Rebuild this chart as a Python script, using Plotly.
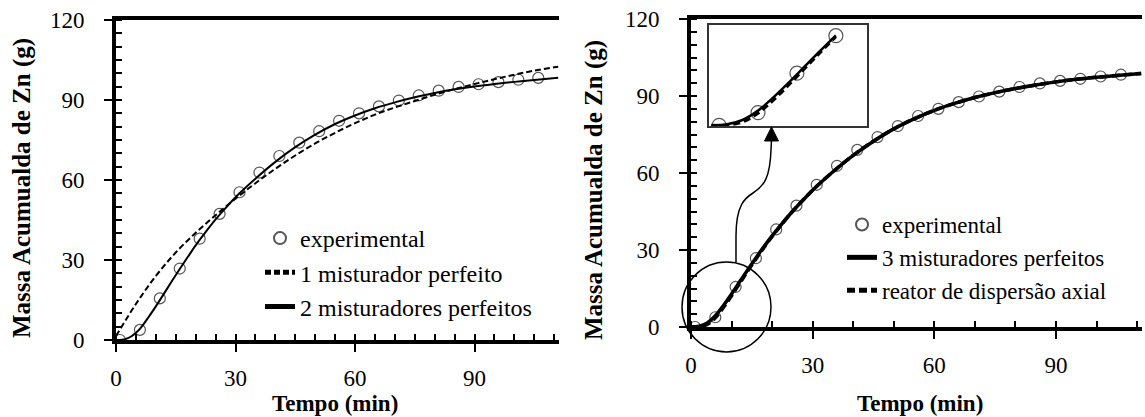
import plotly.graph_objects as go

W, H = 1145, 417

# ---------------- data ----------------
t_exp = [1, 6, 11, 16, 21, 26, 31, 36, 41, 46, 51, 56, 61, 66, 71, 76, 81, 86, 91, 96, 101, 106]
m_exp = [0, 3.8, 15.6, 26.8, 38.0, 47.3, 55.4, 62.8, 69.0, 74.0, 78.3, 82.2, 85.0, 87.6,
         89.8, 91.7, 93.5, 94.9, 95.9, 96.7, 97.6, 98.3]

t_1mix = [0, 5, 10, 15, 20, 25, 30, 35, 40, 45, 50, 55, 60, 65, 70, 75, 80, 85, 90, 95, 100, 105, 110, 111]
m_1mix = [1.5, 13.5, 24.0, 32.8, 40.2, 46.8, 53.0, 58.8, 64.2, 69.2, 73.7, 77.7, 81.3, 84.5,
          87.2, 89.6, 92.0, 94.1, 96.0, 97.8, 99.5, 101.0, 102.3, 102.5]

t_2mix = [0, 1, 2, 3, 4, 6, 8, 10, 12, 14, 16, 18, 20, 22, 25, 28, 31, 35, 40, 45, 50, 55,
          60, 65, 70, 75, 80, 85, 90, 95, 100, 105, 111]
m_2mix = [0, 0, 0.2, 0.7, 1.5, 4.2, 8.2, 12.6, 17.3, 22.0, 26.6, 31.1, 35.5, 39.5, 45.2, 50.3,
          55.0, 60.5, 66.8, 72.3, 77.0, 81.0, 84.2, 86.9, 89.1, 91.0, 92.6, 94.0, 95.1, 96.0,
          96.8, 97.5, 98.3]

t_right = [0, 2, 4, 6, 8, 10, 12, 14, 16, 18, 20, 22, 25, 28, 31, 35, 40, 45, 50, 55, 60, 65,
           70, 75, 80, 85, 90, 95, 100, 105, 111]
m_3mix = [0, 0.3, 1.6, 4.4, 8.4, 12.9, 17.6, 22.3, 26.9, 31.3, 35.5, 39.4, 45.0, 50.1, 54.8,
          60.5, 66.9, 72.4, 77.2, 81.1, 84.4, 87.1, 89.4, 91.3, 92.9, 94.3, 95.5, 96.5, 97.3,
          98.0, 98.8]
m_axial = [0, 0.1, 1.0, 3.6, 7.6, 12.2, 17.0, 21.8, 26.5, 31.0, 35.3, 39.3, 45.0, 50.1, 54.8,
           60.5, 66.9, 72.4, 77.2, 81.1, 84.4, 87.1, 89.4, 91.3, 92.9, 94.3, 95.5, 96.5, 97.3,
           98.0, 98.8]

n_inset = 9      # curve points shown in the zoom inset (t <= 16)
n_inset_exp = 4  # experimental points shown in the inset

x_ticks = [0, 30, 60, 90]
y_ticks = [0, 30, 60, 90, 120]

labels_left = ["experimental", "1 misturador perfeito", "2 misturadores perfeitos"]
labels_right = ["experimental", "3 misturadores perfeitos", "reator de dispersão axial"]
y_title = "Massa Acumualda de Zn (g)"
x_title = "Tempo (min)"

# ---------------- style helpers ----------------
FONT = "Times New Roman, Liberation Serif, DejaVu Serif, serif"


def px(x):
    return x / W


def py(y):
    return 1 - y / H


tickfont = dict(family=FONT, size=23, color="black")

fig = go.Figure()

# left panel
fig.add_trace(go.Scatter(x=t_exp, y=m_exp, mode="markers", name=labels_left[0],
                         marker=dict(symbol="circle-open", size=11, color="#555555",
                                     line=dict(width=1.2, color="#555555")),
                         xaxis="x", yaxis="y", legend="legend"))
fig.add_trace(go.Scatter(x=t_1mix, y=m_1mix, mode="lines", name=labels_left[1],
                         line=dict(color="black", width=2, dash="6px,3px", shape="spline"),
                         xaxis="x", yaxis="y", legend="legend"))
fig.add_trace(go.Scatter(x=t_2mix, y=m_2mix, mode="lines", name=labels_left[2],
                         line=dict(color="black", width=2, shape="spline"),
                         xaxis="x", yaxis="y", legend="legend"))

# right panel
fig.add_trace(go.Scatter(x=t_exp, y=m_exp, mode="markers", name=labels_right[0],
                         marker=dict(symbol="circle-open", size=11, color="#555555",
                                     line=dict(width=1.2, color="#555555")),
                         xaxis="x2", yaxis="y2", legend="legend2"))
fig.add_trace(go.Scatter(x=t_right, y=m_3mix, mode="lines", name=labels_right[1],
                         line=dict(color="black", width=3.5, shape="spline"),
                         xaxis="x2", yaxis="y2", legend="legend2"))
fig.add_trace(go.Scatter(x=t_right, y=m_axial, mode="lines", name=labels_right[2],
                         line=dict(color="black", width=3.5, dash="8px,4px", shape="spline"),
                         xaxis="x2", yaxis="y2", legend="legend2"))

# inset (zoom of the start of the right panel)
fig.add_trace(go.Scatter(x=t_exp[:n_inset_exp], y=m_exp[:n_inset_exp], mode="markers",
                         showlegend=False,
                         marker=dict(symbol="circle-open", size=14, color="#555555",
                                     line=dict(width=1.2, color="#555555")),
                         xaxis="x3", yaxis="y3"))
fig.add_trace(go.Scatter(x=t_right[:n_inset], y=m_axial[:n_inset], mode="lines", showlegend=False,
                         line=dict(color="black", width=3, dash="7px,4px", shape="spline"),
                         xaxis="x3", yaxis="y3"))
fig.add_trace(go.Scatter(x=t_right[:n_inset], y=m_3mix[:n_inset], mode="lines", showlegend=False,
                         line=dict(color="black", width=2.5, shape="spline"),
                         xaxis="x3", yaxis="y3"))


def main_x(domain, minor, anchor):
    return dict(domain=domain, range=[0, 111.2], anchor=anchor, showline=True, linewidth=4,
                linecolor="black", mirror=True, ticks="outside", ticklen=8, tickwidth=2,
                tickcolor="black", tickmode="array", tickvals=x_ticks, tickfont=tickfont,
                ticklabelstandoff=6, showgrid=False, zeroline=False, automargin=False,
                minor=dict(dtick=minor, tick0=0, ticks="inside", ticklen=6, tickwidth=2,
                           tickcolor="black", showgrid=False))


def main_y(domain, anchor):
    return dict(domain=domain, range=[0, 120], anchor=anchor, showline=True, linewidth=4,
                linecolor="black", ticks="outside", ticklen=8, tickwidth=2,
                tickcolor="black", tickmode="array", tickvals=y_ticks, tickfont=tickfont,
                ticklabelstandoff=15, showgrid=False, zeroline=False, automargin=False,
                minor=dict(dtick=5, tick0=0, ticks="inside", ticklen=6, tickwidth=2,
                           tickcolor="black", showgrid=False))


def inner_x(over, anchor):
    return dict(overlaying=over, anchor=anchor, range=[0, 111.2], ticks="inside", ticklen=7,
                tickwidth=2, tickcolor="black", tickmode="array", tickvals=x_ticks,
                showticklabels=False, showline=False, showgrid=False, zeroline=False,
                automargin=False)


def inner_y(over, anchor):
    return dict(overlaying=over, anchor=anchor, range=[0, 120], ticks="inside", ticklen=7,
                tickwidth=2, tickcolor="black", tickmode="array", tickvals=y_ticks,
                showticklabels=False, showline=False, showgrid=False, zeroline=False,
                automargin=False)


dom_left_x = [px(116), px(559)]
dom_left_y = [py(340), py(20)]
dom_right_x = [px(691), px(1142)]
dom_right_y = [py(327), py(19)]

fig.update_layout(
    width=W, height=H,
    font=dict(family=FONT, color="black"),
    margin=dict(l=0, r=0, t=0, b=0, pad=0, autoexpand=False),
    paper_bgcolor="white", plot_bgcolor="rgba(0,0,0,0)",
    xaxis=main_x(dom_left_x, 5, "y"),
    yaxis=main_y(dom_left_y, "x"),
    xaxis2=main_x(dom_right_x, 10, "y2"),
    yaxis2=main_y(dom_right_y, "x2"),
    xaxis3=dict(domain=[px(709), px(867)], range=[-0.3, 20], anchor="y3", showline=True,
                mirror=True, linewidth=1.5, linecolor="#333333", ticks="", showticklabels=False,
                showgrid=False, zeroline=False, automargin=False),
    yaxis3=dict(domain=[py(126), py(25)], range=[-0.2, 30], anchor="x3", showline=True,
                mirror=True, linewidth=1.5, linecolor="#333333", ticks="", showticklabels=False,
                showgrid=False, zeroline=False, automargin=False),
    xaxis4=inner_x("x", "y"),
    yaxis4=inner_y("y", "x"),
    xaxis5=inner_x("x2", "y2"),
    yaxis5=inner_y("y2", "x2"),
    legend=dict(x=px(260), y=py(216), xanchor="left", yanchor="top",
                font=dict(family=FONT, size=24, color="black"),
                bgcolor="rgba(0,0,0,0)", itemsizing="constant"),
    legend2=dict(x=px(842), y=py(203), xanchor="left", yanchor="top",
                 font=dict(family=FONT, size=23, color="black"),
                 bgcolor="rgba(0,0,0,0)", itemsizing="constant"),
    showlegend=True,
)

title_font = dict(family=FONT, size=23, color="black")
fig.add_annotation(text="<b>" + y_title + "</b>", x=px(22), y=py(188), xref="paper", yref="paper",
                   textangle=-90, showarrow=False, font=dict(family=FONT, size=25, color="black"),
                   xanchor="center", yanchor="middle")
fig.add_annotation(text="<b>" + y_title + "</b>", x=px(594), y=py(190), xref="paper", yref="paper",
                   textangle=-90, showarrow=False, font=dict(family=FONT, size=25, color="black"),
                   xanchor="center", yanchor="middle")
fig.add_annotation(text="<b>" + x_title + "</b>", x=px(335), y=py(403), xref="paper", yref="paper",
                   showarrow=False, font=title_font, xanchor="center", yanchor="middle")
fig.add_annotation(text="<b>" + x_title + "</b>", x=px(920), y=py(403), xref="paper", yref="paper",
                   showarrow=False, font=title_font, xanchor="center", yanchor="middle")

# zoom circle, connecting curved arrow and arrowhead
fig.add_shape(type="circle", xref="paper", yref="paper", x0=px(682), x1=px(771),
              y0=py(352), y1=py(262), line=dict(color="black", width=1.5))


def P(x, y):
    return f"{px(x):.5f},{py(y):.5f}"


arrow_path = (f"M {P(736, 262)} L {P(736, 236)} C {P(736, 205)} {P(745, 198)} {P(753, 193)} "
              f"C {P(764, 186)} {P(770, 178)} {P(771, 150)} L {P(771.5, 140)}")
fig.add_shape(type="path", xref="paper", yref="paper", path=arrow_path,
              line=dict(color="black", width=1.5))
head_path = f"M {P(764.5, 141)} L {P(778.5, 141)} L {P(771.5, 127)} Z"
fig.add_shape(type="path", xref="paper", yref="paper", path=head_path,
              fillcolor="black", line=dict(color="black", width=1))

fig.write_html("out.html", config={"displayModeBar": False},
               post_script="document.body.style.margin='0';document.body.style.padding='0';")
